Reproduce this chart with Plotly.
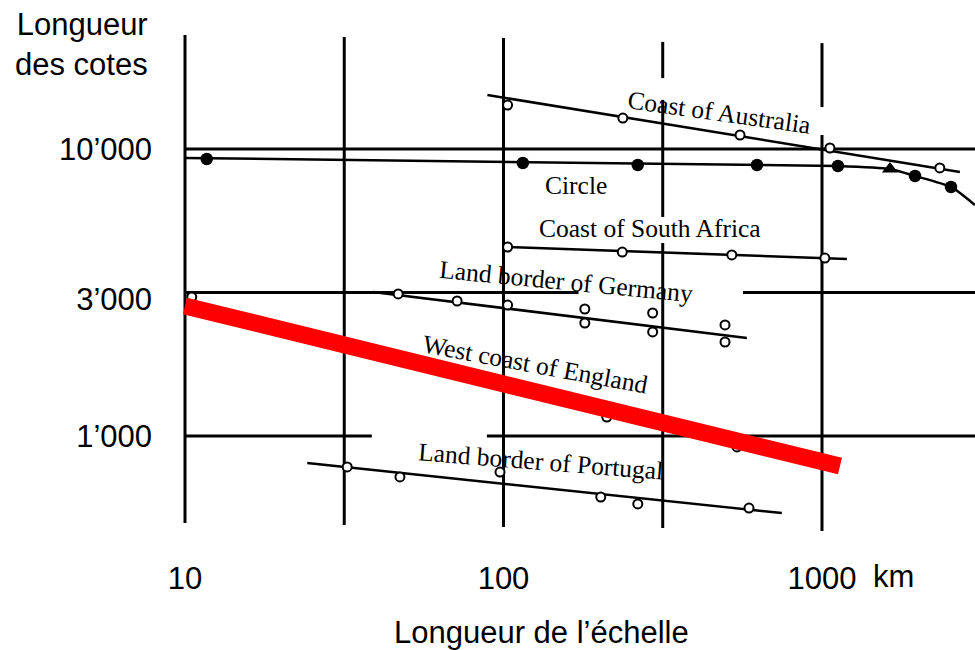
import numpy as np
import plotly.graph_objects as go

# ---- Richardson data: measuring-rod length (km) vs. total length (km) ----
# Coast of Australia
AUS_X = [103, 237, 553, 1059, 2344]
AUS_Y = [14230, 12820, 11190, 10080, 8590]
AUS_FIT_X = [89, 2710]
AUS_FIT_Y = [15420, 8315]

# Circle
CIRCLE_X = [11.7, 115, 264, 625, 1122, 1959, 2541]
CIRCLE_Y = [9230, 8936, 8796, 8796, 8727, 8053, 7375]
CIRCLE_TRI_X = [1635]
CIRCLE_TRI_Y = [8518]
CIRCLE_CURVE_X = [10, 1122, 1635, 1959, 2541, 3020]
CIRCLE_CURVE_Y = [9304, 8727, 8518, 8053, 7375, 6379]

# Coast of South Africa
SAF_X = [103, 236, 521, 1021]
SAF_Y = [4556, 4375, 4276, 4170]
SAF_FIT_X = [101, 1197]
SAF_FIT_Y = [4556, 4138]

# Land border of Germany
GER_X = [46.7, 71.5, 103, 180, 180, 294, 294, 496, 496]
GER_Y = [3125, 2954, 2860, 2770, 2476, 2683, 2304, 2437, 2126]
GER_FIT_X = [38.9, 581]
GER_FIT_Y = [3175, 2195]

# West coast of England
ENG_X = [10.5, 211, 541]
ENG_Y = [3050, 1164, 916]
ENG_FIT_X = [10, 1139]
ENG_FIT_Y = [2838, 786]

# Land border of Portugal
POR_X = [32.3, 47.3, 97.5, 202, 264, 590]
POR_Y = [780, 720, 749, 613, 580, 561]
POR_FIT_X = [24.2, 748]
POR_FIT_Y = [805, 539]

# Hand-drawn grid segments of the original chart
GRID_V_X = [10, 31.62, 100, 316.2, 316.2, 316.2, 1000, 1000]
GRID_V_LO = [498, 490, 482, 17660, 5797, 478, 14000, 467]
GRID_V_HI = [24950, 24550, 24380, 23620, 14830, 4704, 23390, 11190]
GRID_H_Y = [10000, 3162, 3162, 1000, 1000]
GRID_H_LO = [10, 10, 565, 10, 88.7]
GRID_H_HI = [3100, 172, 3100, 38.6, 3100]

# Curve labels: text, position (km, km), angle
LABELS = ["Coast of Australia", "Circle", "Coast of South Africa",
          "Land border of Germany", "West coast of England",
          "Land border of Portugal"]
LABEL_X = [475, 169, 288, 157, 125.6, 131]
LABEL_Y = [13350, 7435, 5305, 3441, 1768, 818]
LABEL_ANGLE = [8, 0, 0, 5.5, 10.5, 4.5]

X_TICKS = [10, 100, 1000]
X_TICK_TEXT = ["10", "100", "1000"]
Y_TICKS = [10000, 3000, 1000]
Y_TICK_TEXT = ["10\u2019000", "3\u2019000", "1\u2019000"]

INK = "black"
SANS = "Liberation Sans, Arial, sans-serif"
SERIF = "Liberation Serif, Times New Roman, serif"

fig = go.Figure()

# grid segments
gx, gy = [], []
for x, lo, hi in zip(GRID_V_X, GRID_V_LO, GRID_V_HI):
    gx += [x, x, None]
    gy += [lo, hi, None]
for y, lo, hi in zip(GRID_H_Y, GRID_H_LO, GRID_H_HI):
    gx += [lo, hi, None]
    gy += [y, y, None]
fig.add_trace(go.Scatter(x=gx, y=gy, mode="lines",
                         line=dict(color=INK, width=3), hoverinfo="skip"))

# fitted lines
for fx, fy in [(AUS_FIT_X, AUS_FIT_Y), (SAF_FIT_X, SAF_FIT_Y),
               (GER_FIT_X, GER_FIT_Y), (POR_FIT_X, POR_FIT_Y)]:
    fig.add_trace(go.Scatter(x=fx, y=fy, mode="lines",
                             line=dict(color=INK, width=2.5)))
fig.add_trace(go.Scatter(x=CIRCLE_CURVE_X, y=CIRCLE_CURVE_Y, mode="lines",
                         line=dict(color=INK, width=2.5, shape="spline",
                                   smoothing=0.6)))

open_marker = dict(symbol="circle", size=9, color="white",
                   line=dict(color=INK, width=2))
for px, py in [(AUS_X, AUS_Y), (SAF_X, SAF_Y), (GER_X, GER_Y),
               (POR_X, POR_Y), (ENG_X, ENG_Y)]:
    fig.add_trace(go.Scatter(x=px, y=py, mode="markers", marker=open_marker))

fig.add_trace(go.Scatter(x=CIRCLE_X, y=CIRCLE_Y, mode="markers",
                         marker=dict(symbol="circle", size=12.5, color=INK)))
fig.add_trace(go.Scatter(x=CIRCLE_TRI_X, y=CIRCLE_TRI_Y, mode="markers",
                         marker=dict(symbol="triangle-up", size=14, color=INK)))

# red regression band for the English coast
fig.add_trace(go.Scatter(x=ENG_FIT_X, y=ENG_FIT_Y, mode="lines",
                         line=dict(color="#ff0000", width=17)))

annotations = []
for t, x, y, a in zip(LABELS, LABEL_X, LABEL_Y, LABEL_ANGLE):
    annotations.append(dict(x=np.log10(x), y=np.log10(y), xref="x", yref="y",
                            text=t, showarrow=False, textangle=a,
                            font=dict(family=SERIF, size=25.5, color=INK)))

annotations += [
    dict(x=-0.0185, y=0.99, xref="paper", yref="paper", xanchor="right",
         yanchor="top", align="right", text="Longueur<br>des cotes",
         showarrow=False, font=dict(family=SANS, size=31, color=INK)),
    dict(x=0.4642, y=-0.160, xref="paper", yref="paper", xanchor="center",
         yanchor="middle", text="Longueur de l\u2019\u00e9chelle",
         showarrow=False, font=dict(family=SANS, size=31, color=INK)),
    dict(x=0.8988, y=-0.0587, xref="paper", yref="paper", xanchor="center",
         yanchor="middle", text="km", showarrow=False,
         font=dict(family=SANS, size=31, color=INK)),
]

fig.update_layout(
    width=975, height=650,
    margin=dict(l=165, r=0, t=0, b=105),
    paper_bgcolor="white", plot_bgcolor="white",
    showlegend=False,
    annotations=annotations,
    xaxis=dict(type="log", range=[0.9372, 3.4804], showgrid=False,
               zeroline=False, showline=False, ticks="",
               tickvals=X_TICKS, ticktext=X_TICK_TEXT,
               ticklabelstandoff=12,
               tickfont=dict(family=SANS, size=31, color=INK)),
    yaxis=dict(type="log", range=[2.6202, 4.5192], showgrid=False,
               zeroline=False, showline=False, ticks="",
               tickvals=Y_TICKS, ticktext=Y_TICK_TEXT,
               ticklabelstandoff=12,
               tickfont=dict(family=SANS, size=31, color=INK)),
)

fig.write_html("out.html")
